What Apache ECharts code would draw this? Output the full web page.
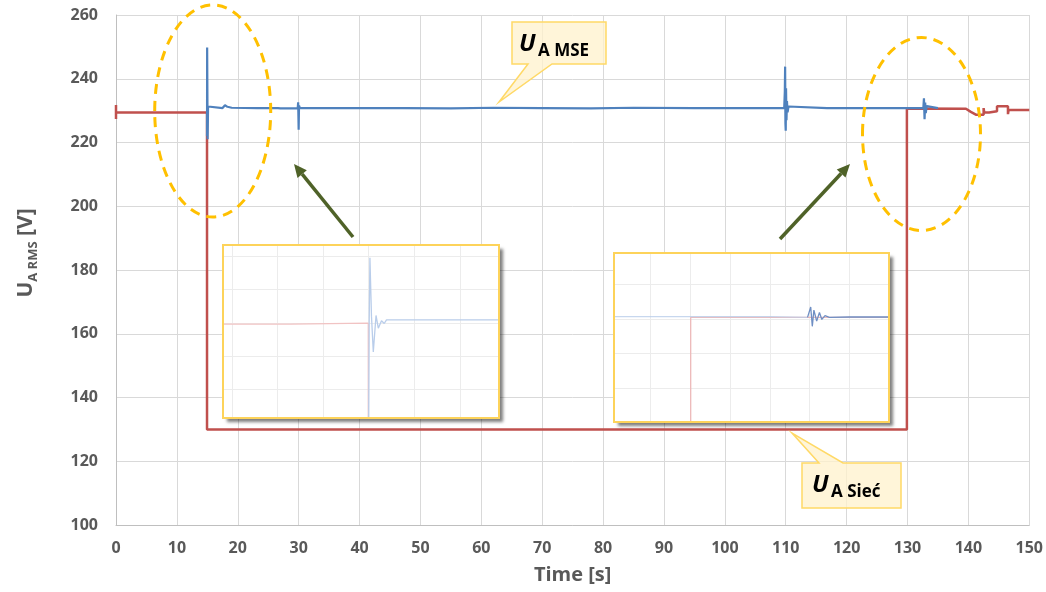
<!DOCTYPE html>
<html>
<head>
<meta charset="utf-8">
<script src="https://cdn.jsdelivr.net/npm/echarts@6/dist/echarts.min.js"></script>
<style>
  html, body { margin: 0; padding: 0; background: #fff; }
  #chart { width: 1046px; height: 592px; }
</style>
</head>
<body>
<div id="chart"></div>
<script>
// main chart data: [time s, voltage V]
const xTicks = { min: 0, max: 150, step: 10 };
const yTicks = { min: 100, max: 260, step: 20 };

// U_A MSE (blue)
const mseTrace = [
  [14.95, 222], [14.97, 249.8], [15.05, 221], [15.12, 231.3], [15.3, 230.8],
  [17.5, 230.8], [17.9, 231.7], [18.3, 231.2], [19, 230.9], [23.2, 230.8],
  [23.4, 231.2], [23.6, 230.8], [26.6, 230.8], [26.8, 231.1], [27, 230.7],
  [29.85, 230.8], [29.92, 232.6], [30.0, 224.0], [30.06, 231.6], [30.2, 230.8],
  [31.3, 230.8], [31.4, 231.2], [31.6, 230.7], [36.3, 230.8], [36.4, 230.3],
  [36.6, 230.8], [41.6, 230.8], [41.8, 231.2], [42, 230.8], [46.7, 230.8],
  [46.9, 231.2], [47.1, 230.8], [55, 230.7], [62, 230.9], [70, 230.8],
  [78, 230.7], [85, 230.9], [95, 230.8], [102, 230.8], [102.1, 231.2],
  [102.3, 230.8], [105.8, 230.8], [106, 231.3], [106.3, 230.8], [109.75, 230.8],
  [109.85, 236], [109.9, 243.8], [109.95, 226], [110.0, 223.7], [110.05, 237],
  [110.12, 227], [110.2, 233], [110.3, 229.5], [110.45, 231.3], [110.6, 230.8],
  [116.8, 230.8], [116.9, 230.3], [117.1, 230.8], [120.3, 230.8], [120.4, 231.2],
  [120.6, 230.8], [132.6, 230.8], [132.7, 233.9], [132.8, 227.3], [132.9, 232.5],
  [133.0, 229.2], [133.15, 231.4], [133.3, 230.8], [135, 230.8]
];

// U_A Sieć (red)
const siecTrace = [
  [0, 231.8], [0, 227.4], [0, 229.4], [14.95, 229.4], [14.95, 130],
  [129.9, 130], [129.9, 230.7], [139.6, 230.6], [140.4, 229.6], [141.3, 228.7],
  [142.5, 228.7], [142.5, 230.8], [142.6, 229.4], [143.4, 229.4], [143.4, 229.8],
  [144.7, 229.8], [144.7, 231.4], [146.5, 231.4], [146.5, 228.9], [146.6, 230.2],
  [150, 230.2]
];

// inset 1 (zoom near t = 15 s), local units
const inset1GridX = [0, 1, 2, 3, 4, 5];
const inset1GridY = [1, 2, 3, 4, 5];
const inset1Siec = [[-0.2, 2.96], [1.28, 2.96], [1.28, 2.99], [2.99, 2.99], [2.99, 0.16]];
const inset1Mse = [
  [3.0, 0.16], [3.01, 3.0], [3.026, 4.95], [3.06, 3.2], [3.10, 2.13], [3.16, 3.22],
  [3.21, 2.84], [3.28, 3.06], [3.34, 2.98], [3.39, 3.09], [4.2, 3.09], [5.86, 3.09]
];

// inset 2 (zoom near t = 130 s), local units
const inset2GridX = [0, 1, 2, 3, 4, 5];
const inset2GridY = [1, 2, 3, 4];
const inset2Siec = [[1.01, 0.01], [1.01, 3.05], [6.0, 3.05]];
const inset2MseFaint = [[-0.92, 3.07], [1.0, 3.07], [2.98, 3.07], [3.0, 3.1], [3.02, 3.05], [3.95, 3.05]];
const inset2MseDark = [
  [3.95, 3.05], [4.0, 3.05], [4.03, 3.35], [4.07, 2.79], [4.11, 3.26], [4.18, 2.94],
  [4.25, 3.19], [4.31, 2.99], [4.39, 3.10], [4.5, 3.05], [5.0, 3.06], [6.0, 3.06]
];

const chart = echarts.init(document.getElementById('chart'));

const labelFont = { color: '#595959', fontWeight: 'bold', fontFamily: 'Open Sans', fontSize: 16 };

// inset frames (pixels): left, top, width, height
const inset1Box = [223, 245, 276, 173];
const inset2Box = [614, 253, 275, 169];

// grid lines of an inset as markLine entries
const insetLines = (gx, gy) => ({
  silent: true,
  symbol: ['none', 'none'],
  label: { show: false },
  lineStyle: { color: '#ececec', width: 1, type: 'solid' },
  data: gx.map(v => ({ xAxis: v })).concat(gy.map(v => ({ yAxis: v })))
});

const insetGrid = b => ({
  left: b[0], top: b[1], width: b[2], height: b[3], show: true, z: 5,
  backgroundColor: '#fff', borderWidth: 0,
  shadowColor: 'rgba(0,0,0,0.5)', shadowBlur: 3, shadowOffsetX: 4, shadowOffsetY: 4
});

const insetFrame = b => ({
  type: 'rect', z: 90, shape: { x: b[0], y: b[1], width: b[2], height: b[3] },
  style: { fill: 'none', stroke: '#fdd35a', lineWidth: 2 }
});

// arrow = line + triangle head
const arrow = (x1, y1, x2, y2, color) => {
  const dx = x2 - x1, dy = y2 - y1;
  const len = Math.sqrt(dx * dx + dy * dy);
  const ux = dx / len, uy = dy / len;
  const hl = 13, hw = 6;
  const bx = x2 - ux * hl, by = y2 - uy * hl;
  return [
    { type: 'line', z: 100, shape: { x1: x1, y1: y1, x2: bx, y2: by },
      style: { stroke: color, lineWidth: 3.5 } },
    { type: 'polygon', z: 100,
      shape: { points: [[x2, y2], [bx - uy * hw, by + ux * hw], [bx + uy * hw, by - ux * hw]] },
      style: { fill: color } }
  ];
};

const calloutStyle = { fill: 'rgba(255,242,204,0.75)', stroke: '#ffd966', lineWidth: 1.5 };

const option = {
  animation: false,
  backgroundColor: '#fff',
  grid: [
    { left: 116, top: 15, width: 919, height: 510 },
    insetGrid(inset1Box),
    insetGrid(inset2Box)
  ],
  xAxis: [
    {
      type: 'value', gridIndex: 0, min: xTicks.min, max: xTicks.max, interval: xTicks.step,
      axisLine: { show: true, lineStyle: { color: '#bfbfbf', width: 1 } },
      axisTick: { show: false },
      splitLine: { lineStyle: { color: '#d9d9d9', width: 1 } },
      axisLabel: Object.assign({ margin: 15 }, labelFont),
      name: 'Time [s]', nameLocation: 'middle', nameGap: 40,
      nameTextStyle: { color: '#595959', fontWeight: 'bold', fontFamily: 'Open Sans', fontSize: 20 }
    },
    { type: 'value', gridIndex: 1, min: -0.2, max: 5.86, show: false },
    { type: 'value', gridIndex: 2, min: -0.92, max: 6.0, show: false }
  ],
  yAxis: [
    {
      type: 'value', gridIndex: 0, min: yTicks.min, max: yTicks.max, interval: yTicks.step,
      axisLine: { show: true, lineStyle: { color: '#bfbfbf', width: 1 } },
      axisTick: { show: false },
      splitLine: { lineStyle: { color: '#d9d9d9', width: 1 } },
      axisLabel: Object.assign({ margin: 18 }, labelFont)
    },
    { type: 'value', gridIndex: 1, min: 0.15, max: 5.33, show: false },
    { type: 'value', gridIndex: 2, min: 0.01, max: 4.92, show: false }
  ],
  series: [
    {
      name: 'U_A Sieć', type: 'line', xAxisIndex: 0, yAxisIndex: 0, data: siecTrace,
      showSymbol: false, z: 2, lineStyle: { color: '#c0504d', width: 2.5 }
    },
    {
      name: 'U_A MSE', type: 'line', xAxisIndex: 0, yAxisIndex: 0, data: mseTrace,
      showSymbol: false, z: 3, lineStyle: { color: '#4f81bd', width: 2.2 }
    },
    {
      type: 'line', xAxisIndex: 1, yAxisIndex: 1, data: inset1Siec, showSymbol: false, z: 6,
      lineStyle: { color: '#f1c3c3', width: 1.3 }, markLine: insetLines(inset1GridX, inset1GridY)
    },
    {
      type: 'line', xAxisIndex: 1, yAxisIndex: 1, data: inset1Mse, showSymbol: false, z: 7,
      lineStyle: { color: '#b9cdea', width: 1.3 }
    },
    {
      type: 'line', xAxisIndex: 2, yAxisIndex: 2, data: inset2Siec, showSymbol: false, z: 6,
      lineStyle: { color: '#eeb9b9', width: 1.3 }, markLine: insetLines(inset2GridX, inset2GridY)
    },
    {
      type: 'line', xAxisIndex: 2, yAxisIndex: 2, data: inset2MseFaint, showSymbol: false, z: 7,
      lineStyle: { color: 'rgba(185,205,234,0.8)', width: 1.3 }
    },
    {
      type: 'line', xAxisIndex: 2, yAxisIndex: 2, data: inset2MseDark, showSymbol: false, z: 7,
      lineStyle: { color: '#6f8fc4', width: 1.3 }
    }
  ],
  graphic: [
    insetFrame(inset1Box),
    insetFrame(inset2Box),
    // highlighted regions
    { type: 'ellipse', z: 100, shape: { cx: 212.7, cy: 111, rx: 58, ry: 106 },
      style: { fill: 'none', stroke: '#ffc000', lineWidth: 3, lineDash: [10, 7] } },
    { type: 'ellipse', z: 100, shape: { cx: 921.5, cy: 134, rx: 59, ry: 96.5 },
      style: { fill: 'none', stroke: '#ffc000', lineWidth: 3, lineDash: [10, 7] } },
    ...arrow(353, 237, 294, 164, '#4f6228'),
    ...arrow(780, 239, 850, 164, '#4f6228'),
    // callout U_A MSE
    { type: 'polygon', z: 100,
      shape: { points: [[512, 22], [606, 22], [606, 64], [552, 64], [499, 102], [528, 64], [512, 64]] },
      style: calloutStyle },
    { type: 'text', z: 101, x: 519, y: 44,
      style: { text: 'U', fill: '#000', font: 'italic bold 24px "Open Sans"', verticalAlign: 'middle' } },
    { type: 'text', z: 101, x: 538, y: 51,
      style: { text: 'A MSE', fill: '#000', font: 'bold 17px "Open Sans"', verticalAlign: 'middle' } },
    // callout U_A Sieć
    { type: 'polygon', z: 100,
      shape: { points: [[802, 463], [819, 463], [792, 433], [843, 463], [901, 463], [901, 508], [802, 508]] },
      style: calloutStyle },
    { type: 'text', z: 101, x: 812, y: 485,
      style: { text: 'U', fill: '#000', font: 'italic bold 24px "Open Sans"', verticalAlign: 'middle' } },
    { type: 'text', z: 101, x: 831, y: 492,
      style: { text: 'A Sieć', fill: '#000', font: 'bold 17px "Open Sans"', verticalAlign: 'middle' } },
    // y axis title
    { type: 'text', z: 100, x: 27, y: 253, rotation: Math.PI / 2,
      style: {
        text: '{u|U}{s|A RMS}{u| [V]}', align: 'center', verticalAlign: 'middle',
        rich: {
          u: { fontSize: 21, fontWeight: 'bold', fontFamily: 'Open Sans', fill: '#595959', lineHeight: 26, padding: [0, 0, 3, 0], verticalAlign: 'bottom' },
          s: { fontSize: 13, fontWeight: 'bold', fontFamily: 'Open Sans', fill: '#595959', lineHeight: 16, verticalAlign: 'bottom' }
        }
      } }
  ]
};

chart.setOption(option);
</script>
</body>
</html>
